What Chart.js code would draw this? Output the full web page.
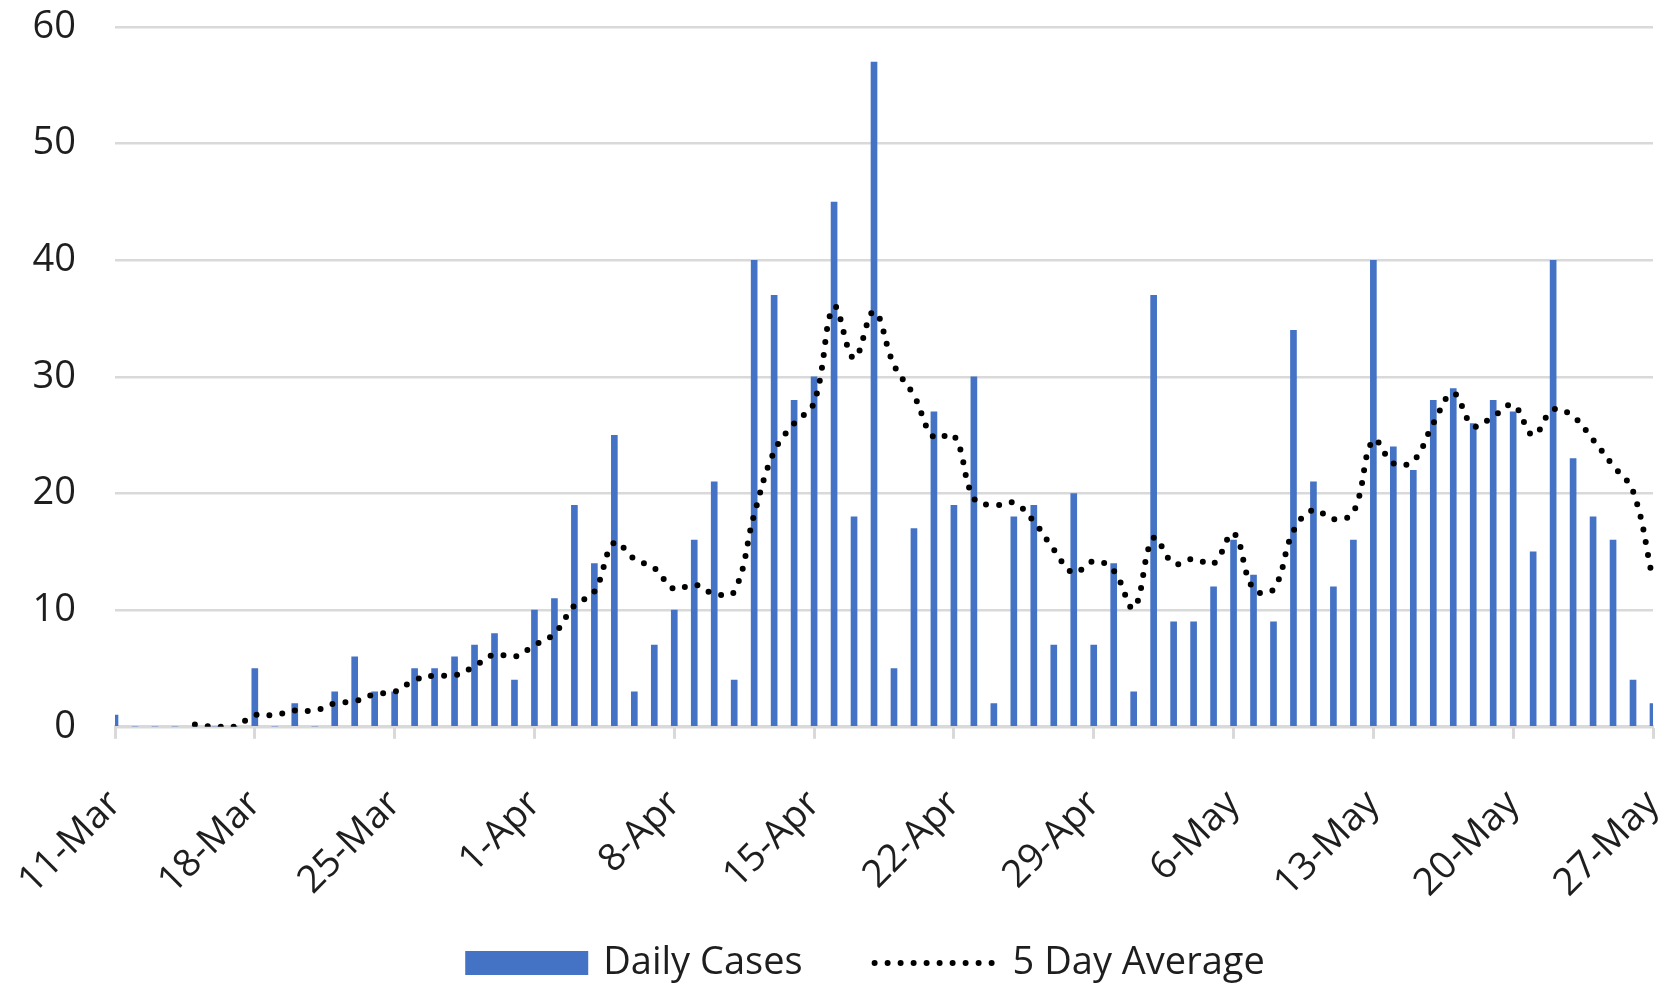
<!DOCTYPE html>
<html>
<head>
<meta charset="utf-8">
<script src="https://cdn.jsdelivr.net/npm/chart.js@4.4.1/dist/chart.umd.min.js"></script>
<style>
  html, body { margin: 0; padding: 0; background: #ffffff; }
  #wrap { width: 1665px; height: 984px; position: relative; }
</style>
</head>
<body>
<div id="wrap"><canvas id="c"></canvas></div>
<script>
// ---- Data ----
const dates = [
  "11-Mar","12-Mar","13-Mar","14-Mar","15-Mar","16-Mar","17-Mar",
  "18-Mar","19-Mar","20-Mar","21-Mar","22-Mar","23-Mar","24-Mar",
  "25-Mar","26-Mar","27-Mar","28-Mar","29-Mar","30-Mar","31-Mar",
  "1-Apr","2-Apr","3-Apr","4-Apr","5-Apr","6-Apr","7-Apr",
  "8-Apr","9-Apr","10-Apr","11-Apr","12-Apr","13-Apr","14-Apr",
  "15-Apr","16-Apr","17-Apr","18-Apr","19-Apr","20-Apr","21-Apr",
  "22-Apr","23-Apr","24-Apr","25-Apr","26-Apr","27-Apr","28-Apr",
  "29-Apr","30-Apr","1-May","2-May","3-May","4-May","5-May",
  "6-May","7-May","8-May","9-May","10-May","11-May","12-May",
  "13-May","14-May","15-May","16-May","17-May","18-May","19-May",
  "20-May","21-May","22-May","23-May","24-May","25-May","26-May",
  "27-May"
];

const dailyCases = [
  1, 0, 0, 0, 0, 0, 0,
  5, 0, 2, 0, 3, 6, 3,
  3, 5, 5, 6, 7, 8, 4,
  10, 11, 19, 14, 25, 3, 7,
  10, 16, 21, 4, 40, 37, 28,
  30, 45, 18, 57, 5, 17, 27,
  19, 30, 2, 18, 19, 7, 20,
  7, 14, 3, 37, 9, 9, 12,
  16, 13, 9, 34, 21, 12, 16,
  40, 24, 22, 28, 29, 26, 28,
  27, 15, 40, 23, 18, 16, 4,
  2
];

const fiveDayAverage = [
  null, null, null, null, 0.2, 0, 0,
  1.0, 1.0, 1.4, 1.4, 2.0, 2.2, 2.8,
  3.0, 4.0, 4.4, 4.4, 5.2, 6.2, 6.0,
  7.0, 8.0, 10.4, 11.6, 15.8, 14.4, 13.6,
  11.8, 12.2, 11.4, 11.6, 18.2, 23.6, 26.0,
  27.8, 36.0, 31.6, 35.6, 31.0, 28.4, 24.8,
  25.0, 19.6, 19.0, 19.2, 17.6, 15.2, 13.2,
  14.2, 13.4, 10.2, 16.2, 14.0, 14.4, 14.0,
  16.6, 11.8, 11.8, 16.8, 18.6, 17.8, 18.4,
  24.6, 22.6, 22.8, 26.0, 28.6, 25.8, 26.6,
  27.6, 25.0, 27.2, 26.6, 24.6, 22.4, 20.2,
  12.6
];

const seriesNames = ["Daily Cases", "5 Day Average"];
const yTicks = [0, 10, 20, 30, 40, 50, 60];
const labelEvery = 7;

// ---- Styling ----
const FONT = "'Open Sans', 'Noto Sans', sans-serif";
const TEXT = '#1e1e1e';
const GRID = '#d9d9d9';
const BLUE = '#4472C4';

Chart.defaults.font.family = FONT;
Chart.defaults.font.size = 38;
Chart.defaults.color = TEXT;

const legendPlugin = {
  id: 'excelLegend',
  afterDraw(chart) {
    const ctx = chart.ctx;
    const dsBar = chart.data.datasets.find(d => d.type === 'bar');
    const dsLine = chart.data.datasets.find(d => d.type === 'line');
    const y = 963;
    ctx.save();
    ctx.font = "38px " + FONT;
    ctx.textBaseline = 'middle';
    ctx.textAlign = 'left';
    const w1 = ctx.measureText(dsBar.label).width;
    const w2 = ctx.measureText(dsLine.label).width;
    const boxW = 123, boxH = 24, gap1 = 15, gapItems = 69, lineLen = 122, gap2 = 19;
    const total = boxW + gap1 + w1 + gapItems + lineLen + gap2 + w2;
    let x = 865 - total / 2;
    ctx.fillStyle = dsBar.backgroundColor;
    ctx.fillRect(x, y - boxH / 2, boxW, boxH);
    x += boxW + gap1;
    ctx.fillStyle = TEXT;
    ctx.fillText(dsBar.label, x, y);
    x += w1 + gapItems;
    ctx.strokeStyle = dsLine.borderColor;
    ctx.lineWidth = dsLine.borderWidth;
    ctx.lineCap = 'round';
    ctx.setLineDash(dsLine.borderDash);
    ctx.beginPath();
    ctx.moveTo(x + 3, y);
    ctx.lineTo(x + lineLen, y);
    ctx.stroke();
    ctx.setLineDash([]);
    x += lineLen + gap2;
    ctx.fillStyle = TEXT;
    ctx.fillText(dsLine.label, x, y);
    ctx.restore();
  }
};

new Chart(document.getElementById('c'), {
  type: 'bar',
  data: {
    labels: dates,
    datasets: [
      {
        type: 'line',
        label: seriesNames[1],
        data: fiveDayAverage,
        borderColor: '#000000',
        backgroundColor: '#000000',
        borderWidth: 6,
        borderDash: [0, 13],
        borderCapStyle: 'round',
        pointRadius: 0,
        tension: 0.4,
        fill: false,
        spanGaps: false,
        order: 0
      },
      {
        type: 'bar',
        label: seriesNames[0],
        data: dailyCases,
        backgroundColor: BLUE,
        borderWidth: 0,
        barThickness: 6,
        order: 1
      }
    ]
  },
  options: {
    responsive: true,
    maintainAspectRatio: false,
    animation: false,
    devicePixelRatio: 1,
    layout: { padding: { left: 30, right: 12, top: 27, bottom: 35 } },
    plugins: {
      legend: { display: false },
      tooltip: { enabled: false }
    },
    scales: {
      x: {
        offset: false,
        grid: {
          offset: false,
          drawOnChartArea: false,
          drawTicks: true,
          tickLength: 12,
          tickColor: GRID,
          tickWidth: 3
        },
        border: { display: true, color: GRID, width: 3 },
        afterBuildTicks(scale) {
          scale.ticks = scale.ticks.filter(t => t.value % labelEvery === 0);
        },
        afterFit(scale) {
          scale.paddingLeft = 0;
          scale.paddingRight = 0;
        },
        ticks: {
          autoSkip: false,
          maxRotation: 45,
          minRotation: 45,
          padding: 43,
          color: TEXT,
          font: { size: 38 }
        }
      },
      y: {
        min: 0,
        max: 60,
        afterBuildTicks(scale) {
          scale.ticks = yTicks.map(v => ({ value: v }));
        },
        afterFit(scale) {
          scale.width = 85;
          scale.paddingTop = 0;
          scale.paddingBottom = 0;
        },
        grid: { color: GRID, lineWidth: 2.5, drawTicks: false },
        border: { display: false },
        ticks: { padding: 39, color: TEXT, font: { size: 38 } }
      }
    }
  },
  plugins: [legendPlugin]
});
</script>
</body>
</html>
